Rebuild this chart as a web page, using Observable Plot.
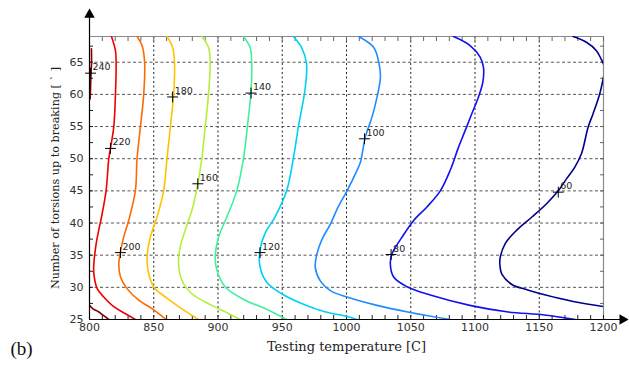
<!DOCTYPE html>
<html>
<head>
<meta charset="utf-8">
<script src="https://cdn.jsdelivr.net/npm/d3@7"></script>
<script src="https://cdn.jsdelivr.net/npm/@observablehq/plot@0.6"></script>
<style>
  html, body { margin: 0; padding: 0; background: #fff; }
  #chart svg { display: block; }
</style>
</head>
<body>
<div id="chart"></div>
<script>
// ---- axes ----
const xDomain = [800, 1200];
const yDomain = [25, 69];
const xTicks = [800, 850, 900, 950, 1000, 1050, 1100, 1150, 1200];
const yTicks = [25, 30, 35, 40, 45, 50, 55, 60, 65];
const xMinor = [800, 810, 820, 830, 840, 850, 860, 870, 880, 890, 900, 910, 920, 930, 940, 950, 960, 970, 980, 990,
                1000, 1010, 1020, 1030, 1040, 1050, 1060, 1070, 1080, 1090, 1100, 1110, 1120, 1130, 1140, 1150,
                1160, 1170, 1180, 1190, 1200];
const yMinor = [25, 27.5, 30, 32.5, 35, 37.5, 40, 42.5, 45, 47.5, 50, 52.5, 55, 57.5, 60, 62.5, 65, 67.5];
const xTitle = "Testing temperature [C]";
const yTitle = "Number of torsions up to breaking [ ` ]";
const panelTag = "(b)";

// ---- contour levels & colours ----
const levels = [60, 80, 100, 120, 140, 160, 180, 200, 220, 240];
const levelColors = ["#000090", "#1010f0", "#1e8cff", "#00d0f8", "#40f0a0", "#b4f03a", "#ffc400", "#ff6a00", "#f00000", "#800000"];

// ---- contour lines (x = temperature, y = torsions) ----
const c240a = [[801.5,67.1],[801.6,65],[801.2,63.3],[800.8,61],[800.5,59.3]];
const c240b = [[800,27.2],[803,26.6],[807,26.2],[811,25.6],[815,25]];
const c220 = [[817.1,69],[820.2,66.8],[820.7,65],[820.2,60],[818.9,55],[816.3,51.6],[815,50],[812.9,45],[809.3,40.9],[807.2,38.9],[805.2,36.8],[803.4,33.7],[803.4,32.1],[806,29.8],[811.1,28.5],[818.9,27],[828,25.9],[835.7,25]];
const c200 = [[837,69],[840.9,67.6],[842.9,65],[842.2,60],[839.6,54.9],[837,50],[835.7,45],[830.5,40.4],[826.6,37.8],[824.1,35.5],[822.8,33.7],[824.1,31.6],[829.2,29.8],[838.3,28],[848.6,26.7],[859,25.1]];
const c180 = [[860.3,69],[864.7,67.3],[866.2,64.75],[865.4,59.8],[862.9,54.9],[860.3,50],[857.7,45],[852.5,40.9],[847.3,37.8],[844.8,34.7],[845.5,32.7],[849.9,30.1],[859,28.5],[869.3,27],[884.9,25]];
const c160 = [[887.4,69],[892.6,67.3],[893.9,65],[892.6,60],[890,54.9],[887.4,50],[884.3,46.1],[879.7,42],[874.5,38.9],[870.6,36.3],[869.3,33.7],[871.9,31.1],[879.7,29],[895.2,27.2],[905.5,26.2],[917.2,25]];
const c140 = [[919.8,69],[925,67.3],[926.2,65],[925.7,60.4],[923.7,56.5],[919.8,50],[914.6,45],[906.8,40.9],[900.4,37.8],[897.8,34.7],[899.1,32.7],[905.5,30.1],[921.1,28],[936.6,26.7],[953.4,25]];
const c120 = [[958.6,69],[965,67.3],[968.9,64.75],[967.6,60.6],[962.5,54.9],[958.6,50],[953.4,45],[944.3,40.9],[936.6,38.4],[932.7,35.8],[932.7,33.2],[937.9,30.8],[949.5,29],[965,27.5],[983.2,26.2],[1000,25.5],[1008,25]];
const c100 = [[1009.6,69],[1021.2,67.3],[1025.1,65],[1026.4,62.7],[1023.8,59.6],[1019.9,56.5],[1014.7,53.4],[1010.9,49.5],[1008,48.1],[1000.4,45],[993.5,42.5],[987.4,39.8],[981,37.5],[977,35.2],[975.7,33.1],[979.6,31],[987.4,29.5],[1000.4,28.5],[1023.7,27.2],[1049.6,26.1],[1080.7,25]];
const c80 = [[1083.3,69],[1096.2,67.6],[1104,65.8],[1106.6,64.2],[1106.1,61.9],[1102.7,59.6],[1097.5,57],[1092.4,54.4],[1087.2,51.8],[1080.7,48.2],[1073,45],[1062.6,42.5],[1052.3,40.4],[1043.2,37.8],[1035.4,35.2],[1034.1,33.7],[1036.7,31.6],[1047.1,30.1],[1065.2,28.8],[1096,27.2],[1124.7,26.2],[1154,25.7],[1178,25]];
const c60a = [[1176.4,69],[1186.7,68.1],[1194.5,66.8],[1198.4,65.4],[1200,64.7]];
const c60b = [[1200,62.7],[1197.1,60.1],[1191.9,57],[1188,54.9],[1182.9,50.8],[1177.7,48.7],[1171.3,46.9],[1164.8,45],[1155.7,43],[1144.1,40.9],[1132.5,38.9],[1123.5,36.8],[1119.5,34.5],[1119.5,33.2],[1121,32],[1129,30.4],[1141,29.6],[1155,28.8],[1176.4,27.8],[1200,27]];

// ---- contour labels ----
const labelLevels = [240, 220, 200, 180, 160, 140, 120, 100, 80, 60];
const labelX = [800.8, 816.3, 824.1, 864.7, 884.3, 925.7, 932.7, 1014, 1034.7, 1164.8];
const labelY = [63.3, 51.6, 35.4, 59.6, 46.1, 60.2, 35.4, 53.1, 35.1, 44.8];

// ---- build tables ----
const pieces = [
  [240, "240a", c240a], [240, "240b", c240b], [220, "220", c220], [200, "200", c200],
  [180, "180", c180], [160, "160", c160], [140, "140", c140], [120, "120", c120],
  [100, "100", c100], [80, "80", c80], [60, "60a", c60a], [60, "60b", c60b]
];
const rows = pieces.flatMap(([level, piece, pts]) => pts.map(([x, y]) => ({level, piece, x, y})));
const labels = labelLevels.map((level, i) => ({level, x: labelX[i], y: labelY[i]}));

const axisLines = [
  {x1: xDomain[0], y1: yDomain[0], x2: xDomain[0], y2: 72.4},
  {x1: xDomain[0], y1: yDomain[0], x2: 1214.8, y2: yDomain[0]}
];
const arrowHeads = [
  {x: xDomain[0], y: 72.4, rot: 0},
  {x: 1214.8, y: yDomain[0], rot: 90}
];

const tickFont = "DejaVu Sans";
const chart = Plot.plot({
  width: 629,
  height: 365,
  marginLeft: 89,
  marginRight: 26,
  marginTop: 36,
  marginBottom: 46,
  style: {background: "#fff", overflow: "visible"},
  x: {domain: xDomain},
  y: {domain: yDomain},
  color: {domain: levels, range: levelColors},
  marks: [
    // grid
    Plot.ruleX(xTicks.filter(v => v > xDomain[0] && v < xDomain[1]), {stroke: "#222", strokeDasharray: "2,2.5", strokeWidth: 1}),
    Plot.ruleY(yTicks.filter(v => v > yDomain[0]), {stroke: "#555", strokeDasharray: "3,2.5", strokeWidth: 1}),
    // frame top & right
    Plot.ruleY([yDomain[1]], {stroke: "#8a8a8a", strokeWidth: 1.2}),
    Plot.ruleX([xDomain[1]], {stroke: "#8a8a8a", strokeWidth: 1.2}),
    // minor ticks
    Plot.axisX({anchor: "bottom", ticks: xMinor, tickSize: -4, tickFormat: () => "", label: null, color: "#222"}),
    Plot.axisX({anchor: "top", ticks: xMinor, tickSize: -4, tickFormat: () => "", label: null, color: "#666"}),
    Plot.axisY({anchor: "left", ticks: yMinor, tickSize: -4, tickFormat: () => "", label: null, color: "#222"}),
    Plot.axisY({anchor: "right", ticks: yMinor, tickSize: -4, tickFormat: () => "", label: null, color: "#666"}),
    // major tick labels
    Plot.axisX({anchor: "bottom", ticks: xTicks, tickFormat: d => String(d), tickSize: 0, tickPadding: 4, label: null, fontSize: 11, fontFamily: tickFont, color: "#333"}),
    Plot.axisY({anchor: "left", ticks: yTicks, tickFormat: d => String(d), tickSize: 0, tickPadding: 6, label: null, fontSize: 11, fontFamily: tickFont, color: "#333"}),
    // contours
    Plot.line(rows, {x: "x", y: "y", z: "piece", stroke: "level", strokeWidth: 1.6, curve: "catmull-rom", clip: true}),
    // label markers
    Plot.dot(labels, {x: "x", y: "y", symbol: "plus", r: 3.6, stroke: "#000", strokeWidth: 1}),
    Plot.text(labels, {x: "x", y: "y", text: d => String(d.level), dx: 2, dy: -6, textAnchor: "start", fontSize: 9.5, fontFamily: tickFont, fill: "#222"}),
    // axis lines with arrows
    Plot.link(axisLines, {x1: "x1", y1: "y1", x2: "x2", y2: "y2", stroke: "#000", strokeWidth: 1.2}),
    Plot.dot(arrowHeads, {x: "x", y: "y", rotate: "rot", symbol: "triangle", r: 3.9, fill: "#000", stroke: "none"}),
    // titles
    Plot.text([xTitle], {text: d => d, frameAnchor: "bottom", dy: 31, fontFamily: "DejaVu Serif", fontSize: 13, fill: "#222"}),
    Plot.text([yTitle], {text: d => d, frameAnchor: "left", textAnchor: "middle", dx: -34, rotate: -90, fontFamily: "DejaVu Serif", fontSize: 11.2, fill: "#222"}),
    Plot.text([panelTag], {text: d => d, frameAnchor: "bottom-left", textAnchor: "middle", dx: -68, dy: 35, fontFamily: "Liberation Serif", fontSize: 19, fill: "#111"})
  ]
});
document.getElementById("chart").appendChild(chart);
</script>
</body>
</html>
